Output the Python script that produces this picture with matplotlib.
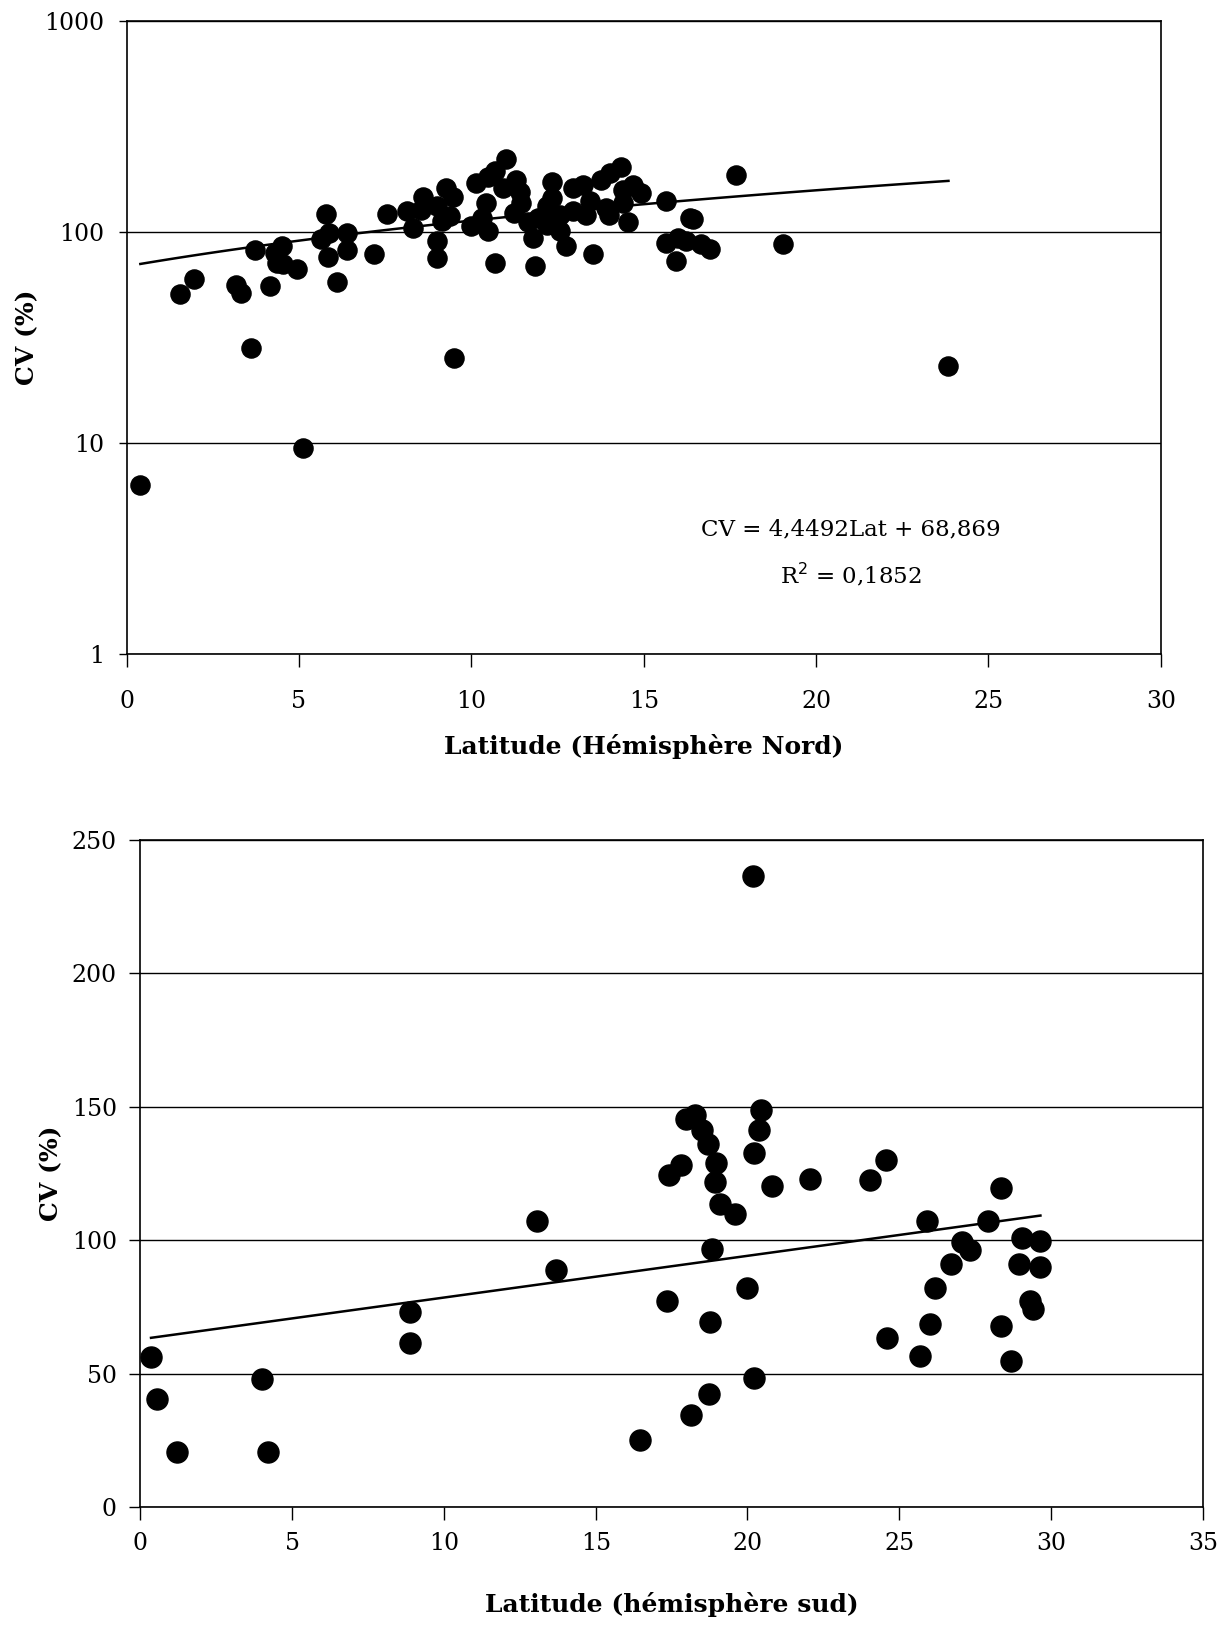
import numpy as np
import matplotlib
matplotlib.use("Agg")
import matplotlib.pyplot as plt

plt.rcParams['font.family'] = ['DejaVu Serif']

# Hemisphere Nord : latitude et CV (%)
lat_nord = [0.4, 1.56, 1.95, 3.16, 3.32, 3.61, 3.72, 4.15, 4.30, 4.36,
            4.52, 4.55, 4.95, 5.11, 5.64, 5.79, 5.88, 5.84, 6.11, 6.40,
            6.40, 7.17, 7.54, 8.12, 8.30, 8.55, 8.60, 8.99, 9.01, 8.99,
            9.26, 9.47, 9.38, 9.16, 9.51, 10.0, 10.15, 10.49, 10.68, 11.02,
            10.92, 10.44, 10.3, 10.49, 10.70, 11.31, 11.41, 11.45, 11.24, 11.63,
            11.79, 11.84, 11.93, 12.35, 12.35, 12.2, 12.4, 12.57, 12.2, 12.57,
            12.76, 12.95, 13.24, 13.43, 12.95, 13.34, 13.53, 13.77, 13.92, 14.0,
            14.01, 14.35, 14.40, 14.4, 14.69, 14.93, 14.55, 15.64, 15.66, 15.95,
            16.0, 16.24, 16.43, 16.35, 16.67, 16.91, 17.69, 19.04, 23.84]
cv_nord = [6.3, 50.8, 59.7, 56.3, 51.5, 28.2, 82.7, 55.8, 79.6, 71.5,
           85.9, 70.5, 67.1, 9.5, 92.9, 121.6, 99.0, 76.5, 58.3, 99.0,
           82.7, 78.5, 122, 125.5, 105, 128, 147.5, 132.4, 90.7, 75.7,
           161.4, 147.5, 118.9, 112.6, 25.4, 106.7, 170.3, 183, 195, 222,
           161, 137, 116.6, 101, 71.3, 176.7, 155.7, 137, 123.2, 112,
           94, 69.2, 116.6, 173.5, 145, 132.4, 118.9, 121, 108.6, 101,
           86, 161, 167, 140, 125.5, 121, 78.5, 176.6, 130, 120,
           190, 204, 158.6, 137, 167.5, 153, 111.4, 141, 89.1, 73.1,
           94, 90.7, 115.4, 116.5, 87.5, 83, 186.7, 87.7, 23.3]

# droite de tendance affichee sur le graphique
pente_nord = 4.4492
origine_nord = 68.869
r2_nord = 0.1852

# Hemisphere sud
lat_sud = [0.35, 0.56, 1.19, 3.99, 4.22, 8.89, 8.89, 13.05, 13.7, 20.18,
           16.47, 18.15, 18.73, 20.2, 17.34, 18.75, 20.0, 18.82, 17.4, 17.8,
           17.97, 18.27, 18.5, 18.7, 18.96, 18.94, 19.08, 19.6, 20.22, 20.39,
           20.46, 20.81, 22.07, 24.02, 24.57, 24.61, 25.67, 25.9, 26.0, 26.17,
           26.72, 27.05, 27.34, 27.93, 28.35, 28.34, 28.69, 29.03, 28.94, 29.65,
           29.65, 29.31, 29.41]
cv_sud = [56.3, 40.5, 20.4, 47.8, 20.4, 73.1, 61.3, 107.3, 88.9, 236.3,
          25.2, 34.5, 42.4, 48.3, 77.3, 69.4, 81.9, 96.6, 124.5, 128.2,
          145.2, 146.7, 141.2, 135.9, 129, 121.9, 113.6, 109.7, 132.5, 141.2,
          148.7, 120.1, 122.9, 122.5, 130, 63.3, 56.6, 107.1, 68.4, 82.0,
          90.9, 99.2, 96.3, 107.1, 119.7, 67.8, 54.6, 100.8, 90.9, 99.8,
          89.9, 77.3, 74.2]

fig = plt.figure(figsize=(12.24, 16.27), dpi=100)

# ---- graphique du haut (echelle log) ----
ax1 = fig.add_axes([0.1034, 0.598, 0.845, 0.389])
ax1.scatter(lat_nord, cv_nord, s=190, color="black", zorder=3)
xt = np.linspace(min(lat_nord), max(lat_nord), 100)
ax1.plot(xt, pente_nord*xt + origine_nord, color="black", lw=1.8, zorder=2)
ax1.set_yscale("log")
ax1.set_xlim(0, 30)
ax1.set_ylim(1, 1000)
ax1.set_xticks([0, 5, 10, 15, 20, 25, 30])
ax1.set_yticks([1, 10, 100, 1000])
ax1.set_yticklabels(["1", "10", "100", "1000"])
ax1.minorticks_off()
ax1.yaxis.grid(True, color="black", lw=1)
ax1.set_axisbelow(True)
ax1.tick_params(axis="x", direction="out", length=9, width=1, pad=17, labelsize=17)
ax1.tick_params(axis="y", direction="out", length=6, width=1, pad=10, labelsize=17)
ax1.set_xlabel("Latitude (Hémisphère Nord)", fontsize=18, fontweight="bold")
ax1.xaxis.label.set_va("center")
ax1.xaxis.set_label_coords(0.5, -0.1453)
ax1.set_ylabel("CV (%)", fontsize=18, fontweight="bold")
ax1.yaxis.label.set_va("center")
ax1.yaxis.set_label_coords(-0.0962, 0.5)
ax1.text(21.0, 3.9, "CV = 4,4492Lat + 68,869", ha="center", va="center", fontsize=16.5)
ax1.text(21.0, 2.38, "R$^2$ = " + ("%.4f" % r2_nord).replace(".", ","),
         ha="center", va="center", fontsize=16.5)
for s in ax1.spines.values():
    s.set_color("black")
    s.set_linewidth(1.2)

# ---- graphique du bas ----
ax2 = fig.add_axes([0.1147, 0.0738, 0.868, 0.410])
ax2.scatter(lat_sud, cv_sud, s=230, color="black", zorder=3)
p = np.polyfit(lat_sud, cv_sud, 1)
xs = np.linspace(min(lat_sud), max(lat_sud), 100)
ax2.plot(xs, np.polyval(p, xs), color="black", lw=1.8, zorder=2)
ax2.set_xlim(0, 35)
ax2.set_ylim(0, 250)
ax2.set_xticks([0, 5, 10, 15, 20, 25, 30, 35])
ax2.set_yticks([0, 50, 100, 150, 200, 250])
ax2.yaxis.grid(True, color="black", lw=1)
ax2.set_axisbelow(True)
ax2.tick_params(axis="x", direction="out", length=9, width=1, pad=9, labelsize=17)
ax2.tick_params(axis="y", direction="out", length=8, width=1, pad=9, labelsize=17)
ax2.set_xlabel("Latitude (hémisphère sud)", fontsize=18, fontweight="bold")
ax2.xaxis.label.set_va("center")
ax2.xaxis.set_label_coords(0.5, -0.1468)
ax2.set_ylabel("CV (%)", fontsize=18, fontweight="bold")
ax2.yaxis.label.set_va("center")
ax2.yaxis.set_label_coords(-0.0838, 0.5)
for s in ax2.spines.values():
    s.set_color("black")
    s.set_linewidth(1.2)

fig.savefig("out.png", dpi=100)
